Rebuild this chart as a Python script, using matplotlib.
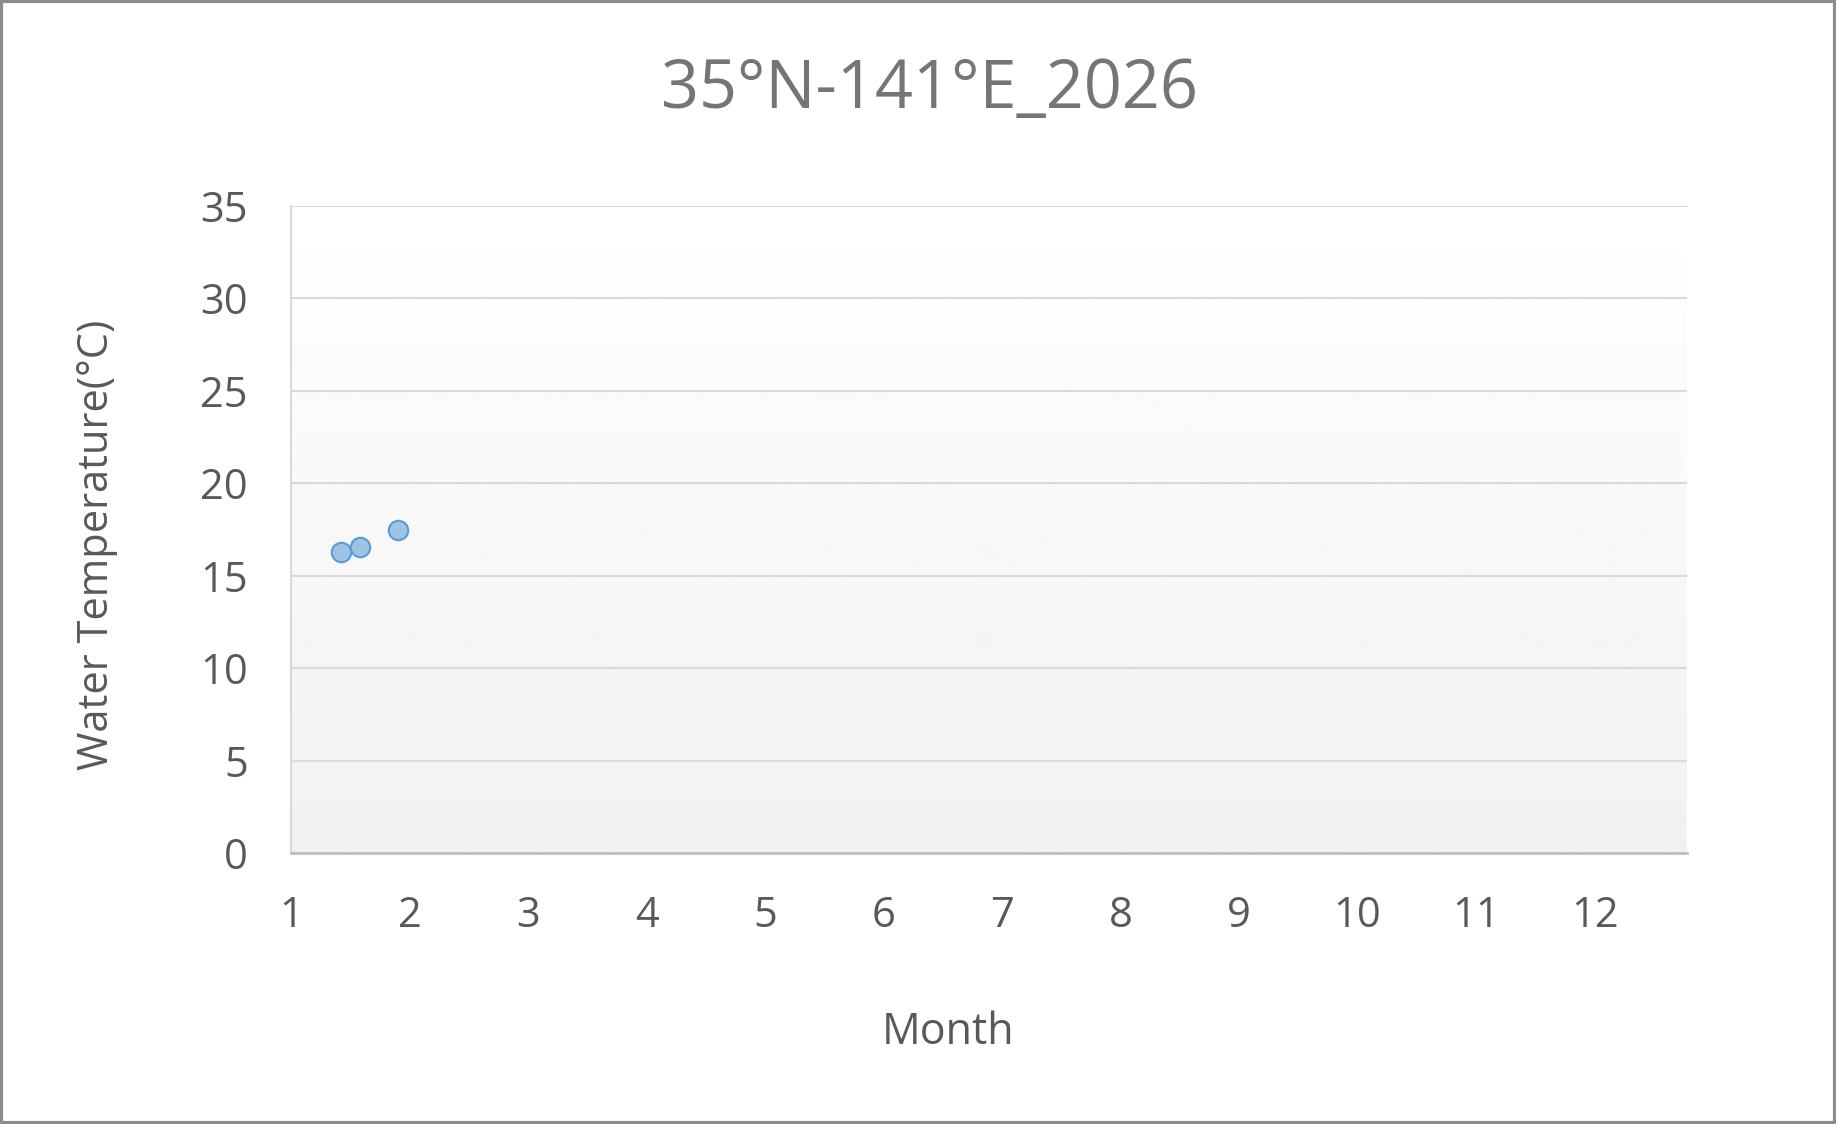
import numpy as np
import matplotlib.pyplot as plt

months = [1.42, 1.58, 1.90]
temps = [16.3, 16.55, 17.45]
yticks = [0, 5, 10, 15, 20, 25, 30, 35]
xticks = list(range(1, 13))

plt.rcParams['font.family'] = ['Open Sans', 'DejaVu Sans']

W, H = 1836, 1124
fig = plt.figure(figsize=(W / 100, H / 100), dpi=100)
ax = fig.add_axes([291 / W, 1 - 853 / H, (1687 - 291) / W, (853 - 206) / H])

# gradient background like the Excel plot area
grad = np.linspace(1.0, 0.945, 256).reshape(-1, 1)
ax.imshow(grad, cmap='gray', vmin=0, vmax=1, aspect='auto',
          extent=[1, 12.78, 0, 35], origin='upper', zorder=0)

ax.set_xlim(1, 12.78)
ax.set_ylim(0, 35)
ax.set_xticks(xticks)
ax.set_yticks(yticks)
ax.tick_params(length=0, labelsize=30, colors='#595959')
ax.tick_params(axis='y', pad=31)
ax.tick_params(axis='x', pad=30)
ax.grid(axis='y', color='#d9d9d9', linewidth=1.5, zorder=1)
for s in ['top', 'right']:
    ax.spines[s].set_visible(False)
ax.spines['left'].set_color('#d9d9d9')
ax.spines['left'].set_linewidth(1.5)
ax.spines['bottom'].set_color('#bfbfbf')
ax.spines['bottom'].set_linewidth(2)

ax.plot(months, temps, 'o', markersize=14, markerfacecolor='#9dc3e6',
        markeredgecolor='#5b9bd5', markeredgewidth=1.5, zorder=3, clip_on=False)

fig.text(929 / W, 1 - 90 / H, '35°N-141°E_2026', ha='center', va='center',
         fontsize=48, color='#757575')
fig.text(948 / W, 1 - 1033 / H, 'Month', ha='center', va='center',
         fontsize=31, color='#595959')
fig.text(97 / W, 1 - 545 / H, 'Water Temperature(°C)', ha='center', va='center',
         rotation=90, fontsize=30, color='#595959')

fig.patches.append(plt.Rectangle((0.0008, 0.001), 0.9984, 0.998, transform=fig.transFigure,
                                 fill=False, edgecolor='#8c8c8c', linewidth=3))

fig.savefig('out.png', dpi=100)
